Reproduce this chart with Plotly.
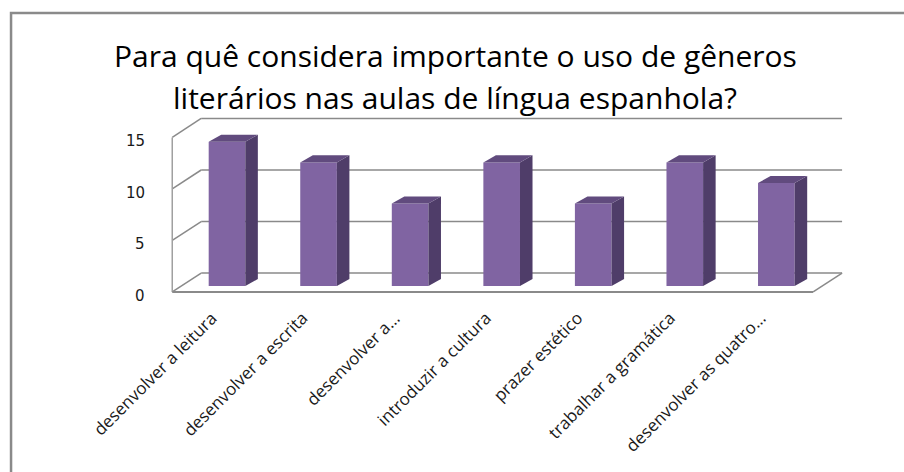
import plotly.graph_objects as go

categories = ["desenvolver a leitura", "desenvolver a escrita", "desenvolver a…",
              "introduzir a cultura", "prazer estético", "trabalhar a gramática",
              "desenvolver as quatro…"]
values = [14, 12, 8, 12, 8, 12, 10]
y_ticks = [0, 5, 10, 15]
title_lines = ["Para quê considera importante o uso de gêneros",
               "literários nas aulas de língua espanhola?"]

# 3D look parameters (data units)
W = 0.4                 # bar width
DXD, DYD = 0.137, 0.68  # bar depth
DXF, DYF = -0.098, -0.58  # front plane offset
DXB, DYB = 0.218, 1.26    # back wall offset
X_LO, X_HI = -0.5, len(categories) - 0.5

FRONT = "#8064A2"
SIDE = "#4F3D69"
TOP = "#614B7E"
GRID = "#8A8A8A"

fig = go.Figure()

fig.add_trace(go.Bar(x=list(range(len(values))), y=values, width=W,
                     marker=dict(color=FRONT, line=dict(width=0)),
                     hoverinfo="skip"))

for i, v in enumerate(values):
    r = i + W / 2
    l = i - W / 2
    fig.add_trace(go.Scatter(
        x=[r, r + DXD, r + DXD, r, r], y=[0, DYD, v + DYD, v, 0],
        fill="toself", fillcolor=SIDE, mode="lines", line=dict(width=0, color=SIDE),
        hoverinfo="skip"))
    fig.add_trace(go.Scatter(
        x=[l, l + DXD, r + DXD, r, l], y=[v, v + DYD, v + DYD, v, v],
        fill="toself", fillcolor=TOP, mode="lines", line=dict(width=0, color=TOP),
        hoverinfo="skip"))

shapes = []
gl = dict(color=GRID, width=1.5)
for v in y_ticks:
    shapes.append(dict(type="line", xref="x", yref="y", layer="below",
                       x0=X_LO + DXB, x1=X_HI + DXB, y0=v + DYB, y1=v + DYB, line=gl))
    shapes.append(dict(type="line", xref="x", yref="y", layer="below",
                       x0=X_LO + DXF, x1=X_LO + DXB, y0=v + DYF, y1=v + DYB, line=gl))
shapes.append(dict(type="line", xref="x", yref="y", layer="below",
                   x0=X_LO + DXF, x1=X_LO + DXF, y0=y_ticks[0] + DYF, y1=y_ticks[-1] + DYF,
                   line=dict(color="#A0A0A0", width=1.5)))
shapes.append(dict(type="line", xref="x", yref="y", layer="below",
                   x0=X_LO + DXF, x1=X_HI + DXF, y0=DYF, y1=DYF, line=dict(color=GRID, width=2)))
shapes.append(dict(type="line", xref="x", yref="y", layer="below",
                   x0=X_HI + DXF, x1=X_HI + DXB, y0=DYF, y1=DYB, line=gl))
shapes.append(dict(type="rect", xref="paper", yref="paper",
                   x0=-0.193, x1=1.2, y0=-0.9, y1=1.46,
                   line=dict(color="#8A8A8A", width=2.5)))

annotations = []
for v in y_ticks:
    annotations.append(dict(x=X_LO + DXF, y=v + DYF, xref="x", yref="y", text=str(v),
                            showarrow=False, xanchor="right", yanchor="middle",
                            xshift=-25, yshift=-4,
                            font=dict(family="DejaVu Sans", size=15, color="#1a1a1a")))
for i, c in enumerate(categories):
    annotations.append(dict(x=i + DXF, y=DYF, xref="x", yref="y", text=c,
                            showarrow=False, textangle=-45, xanchor="right", yanchor="top",
                            xshift=6, yshift=-12,
                            font=dict(family="Open Sans", size=17, color="#1a1a1a")))
for k, t in enumerate(title_lines):
    annotations.append(dict(x=(455 - 150) / 720, y=(305 - (56 + 41 * k)) / 200,
                            xref="paper", yref="paper", text=t, showarrow=False,
                            xanchor="center", yanchor="middle",
                            font=dict(family="Open Sans", size=30, color="#000000")))

fig.update_layout(
    width=904, height=472,
    margin=dict(l=150, r=34, t=105, b=167),
    paper_bgcolor="white", plot_bgcolor="white",
    showlegend=False,
    xaxis=dict(range=[-0.841, 7.023], visible=False, fixedrange=True),
    yaxis=dict(range=[-1.845, 17.57], visible=False, fixedrange=True),
    shapes=shapes, annotations=annotations,
)

fig.write_html("out.html")
